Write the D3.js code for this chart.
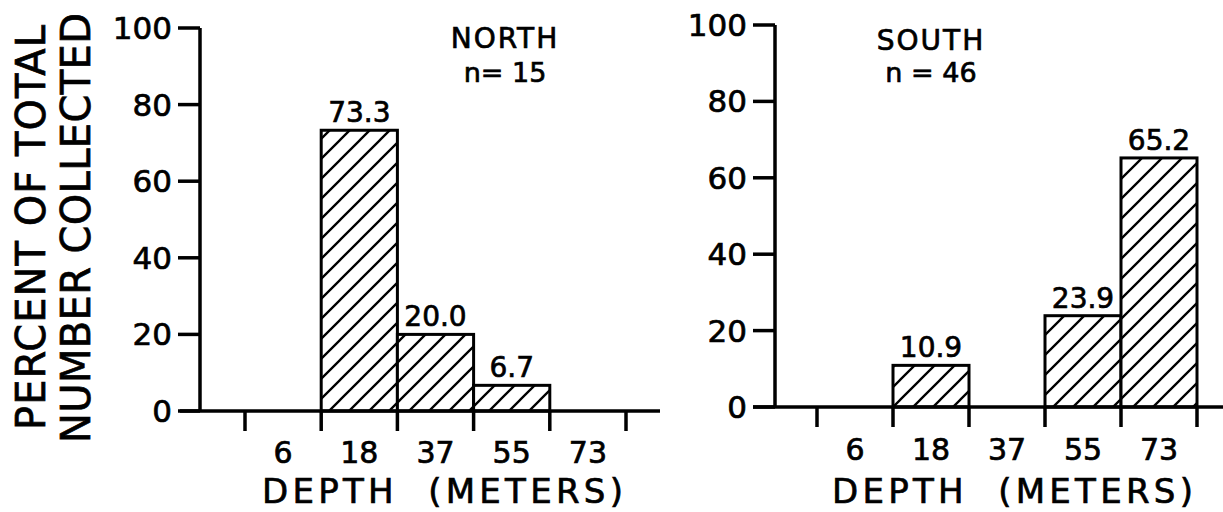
<!DOCTYPE html>
<html>
<head>
<meta charset="utf-8">
<script src="https://cdn.jsdelivr.net/npm/d3@7"></script>
<style>
  html, body { margin: 0; padding: 0; background: #fff; }
  svg { display: block; }
  text { font-family: "DejaVu Sans", sans-serif; fill: #000; stroke: #000; stroke-width: 0.7px; }
</style>
</head>
<body>
<svg id="chart" width="1223" height="512"></svg>
<script>
// ---- data ----
const categories = ["6", "18", "37", "55", "73"];
const northValues = [0, 73.3, 20.0, 6.7, 0];
const southValues = [0, 10.9, 0, 23.9, 65.2];
const yTicks = [0, 20, 40, 60, 80, 100];
const panelTitles = ["NORTH", "SOUTH"];
const panelCounts = ["n= 15", "n = 46"];
const xTitle = "DEPTH  (METERS)";
const yTitleLines = ["PERCENT OF TOTAL", "NUMBER COLLECTED"];

const svg = d3.select("#chart");

// hatch pattern
const defs = svg.append("defs");
const pat = defs.append("pattern")
  .attr("id", "hatch")
  .attr("patternUnits", "userSpaceOnUse")
  .attr("width", 20).attr("height", 20);
pat.append("rect").attr("width", 20).attr("height", 20).attr("fill", "#fff");
pat.append("path")
  .attr("d", "M-2,22 L22,-2 M-2,2 L2,-2 M18,22 L22,18")
  .attr("stroke", "#000").attr("stroke-width", 2.3);

const panels = [
  { values: northValues, axisX: 200, xRange: [245, 626], yRange: [411, 28], xLineEnd: 660, xLineStart: 180,
    title: panelTitles[0], count: panelCounts[0], titleX: 505, titleY: 48, countY: 82,
    tickLabelRight: 172, xTitleRange: [262, 623], xTitleY: 503, tickLabelY: 463 },
  { values: southValues, axisX: 775, xRange: [817, 1197], yRange: [407, 25], xLineEnd: 1223, xLineStart: 753,
    title: panelTitles[1], count: panelCounts[1], titleX: 931, titleY: 50, countY: 82,
    tickLabelRight: 747, xTitleRange: [832, 1193], xTitleY: 503, tickLabelY: 460 }
];

panels.forEach(p => {
  const g = svg.append("g");
  const x = d3.scaleBand().domain(categories).range(p.xRange).padding(0);
  const y = d3.scaleLinear().domain([0, 100]).range(p.yRange);

  // bars
  const data = categories.map((c, i) => ({ c, v: p.values[i] })).filter(d => d.v > 0);
  g.selectAll("rect.bar").data(data).enter().append("rect")
    .attr("class", "bar")
    .attr("x", d => x(d.c))
    .attr("y", d => y(d.v))
    .attr("width", x.bandwidth())
    .attr("height", d => y(0) - y(d.v))
    .attr("fill", "url(#hatch)")
    .attr("stroke", "#000")
    .attr("stroke-width", 3);

  g.selectAll("text.val").data(data).enter().append("text")
    .attr("class", "val")
    .attr("x", d => x(d.c) + x.bandwidth() / 2)
    .attr("y", d => y(d.v) - 8)
    .attr("text-anchor", "middle")
    .attr("font-size", 28)
    .text(d => d.v.toFixed(1));

  // x axis line
  g.append("line")
    .attr("x1", p.xLineStart).attr("x2", p.xLineEnd)
    .attr("y1", y(0)).attr("y2", y(0))
    .attr("stroke", "#000").attr("stroke-width", 3.5);

  // x ticks at bin boundaries
  const bounds = categories.map(c => x(c)).concat([x.range()[1]]);
  g.selectAll("line.xt").data(bounds).enter().append("line")
    .attr("class", "xt")
    .attr("x1", d => d).attr("x2", d => d)
    .attr("y1", y(0)).attr("y2", y(0) + 20)
    .attr("stroke", "#000").attr("stroke-width", 3.5);

  // x tick labels centered in bins
  g.selectAll("text.xl").data(categories).enter().append("text")
    .attr("class", "xl")
    .attr("x", d => x(d) + x.bandwidth() / 2)
    .attr("y", p.tickLabelY)
    .attr("text-anchor", "middle")
    .attr("font-size", 30)
    .text(d => d);

  // y axis
  g.append("line")
    .attr("x1", p.axisX).attr("x2", p.axisX)
    .attr("y1", y(100)).attr("y2", y(0))
    .attr("stroke", "#000").attr("stroke-width", 3.5);
  g.selectAll("line.yt").data(yTicks).enter().append("line")
    .attr("class", "yt")
    .attr("x1", p.axisX - 22).attr("x2", p.axisX)
    .attr("y1", d => y(d)).attr("y2", d => y(d))
    .attr("stroke", "#000").attr("stroke-width", 3.5);
  g.selectAll("text.yl").data(yTicks).enter().append("text")
    .attr("class", "yl")
    .attr("x", p.tickLabelRight)
    .attr("y", d => y(d) + 11)
    .attr("text-anchor", "end")
    .attr("font-size", 31)
    .text(d => d);

  // x title
  g.append("text")
    .attr("x", p.xTitleRange[0])
    .attr("y", p.xTitleY)
    .attr("font-size", 34)
    .attr("textLength", p.xTitleRange[1] - p.xTitleRange[0])
    .attr("lengthAdjust", "spacing")
    .style("white-space", "pre")
    .text(xTitle);

  // panel title
  g.append("text")
    .attr("x", p.titleX).attr("y", p.titleY)
    .attr("text-anchor", "middle")
    .attr("font-size", 28)
    .attr("letter-spacing", 2)
    .text(p.title);
  g.append("text")
    .attr("x", p.titleX).attr("y", p.countY)
    .attr("text-anchor", "middle")
    .attr("font-size", 27)
    .style("white-space", "pre")
    .text(p.count);
});

// y title (two lines, rotated)
const yTitleSpecs = [
  { text: yTitleLines[0], bx: 45, y0: 25, y1: 430 },
  { text: yTitleLines[1], bx: 90, y0: 13, y1: 443 }
];
yTitleSpecs.forEach(s => {
  svg.append("text")
    .attr("transform", `translate(${s.bx},${s.y1}) rotate(-90)`)
    .attr("x", 0).attr("y", 0)
    .attr("font-size", 40)
    .attr("textLength", s.y1 - s.y0)
    .attr("lengthAdjust", "spacing")
    .text(s.text);
});
</script>
</body>
</html>
